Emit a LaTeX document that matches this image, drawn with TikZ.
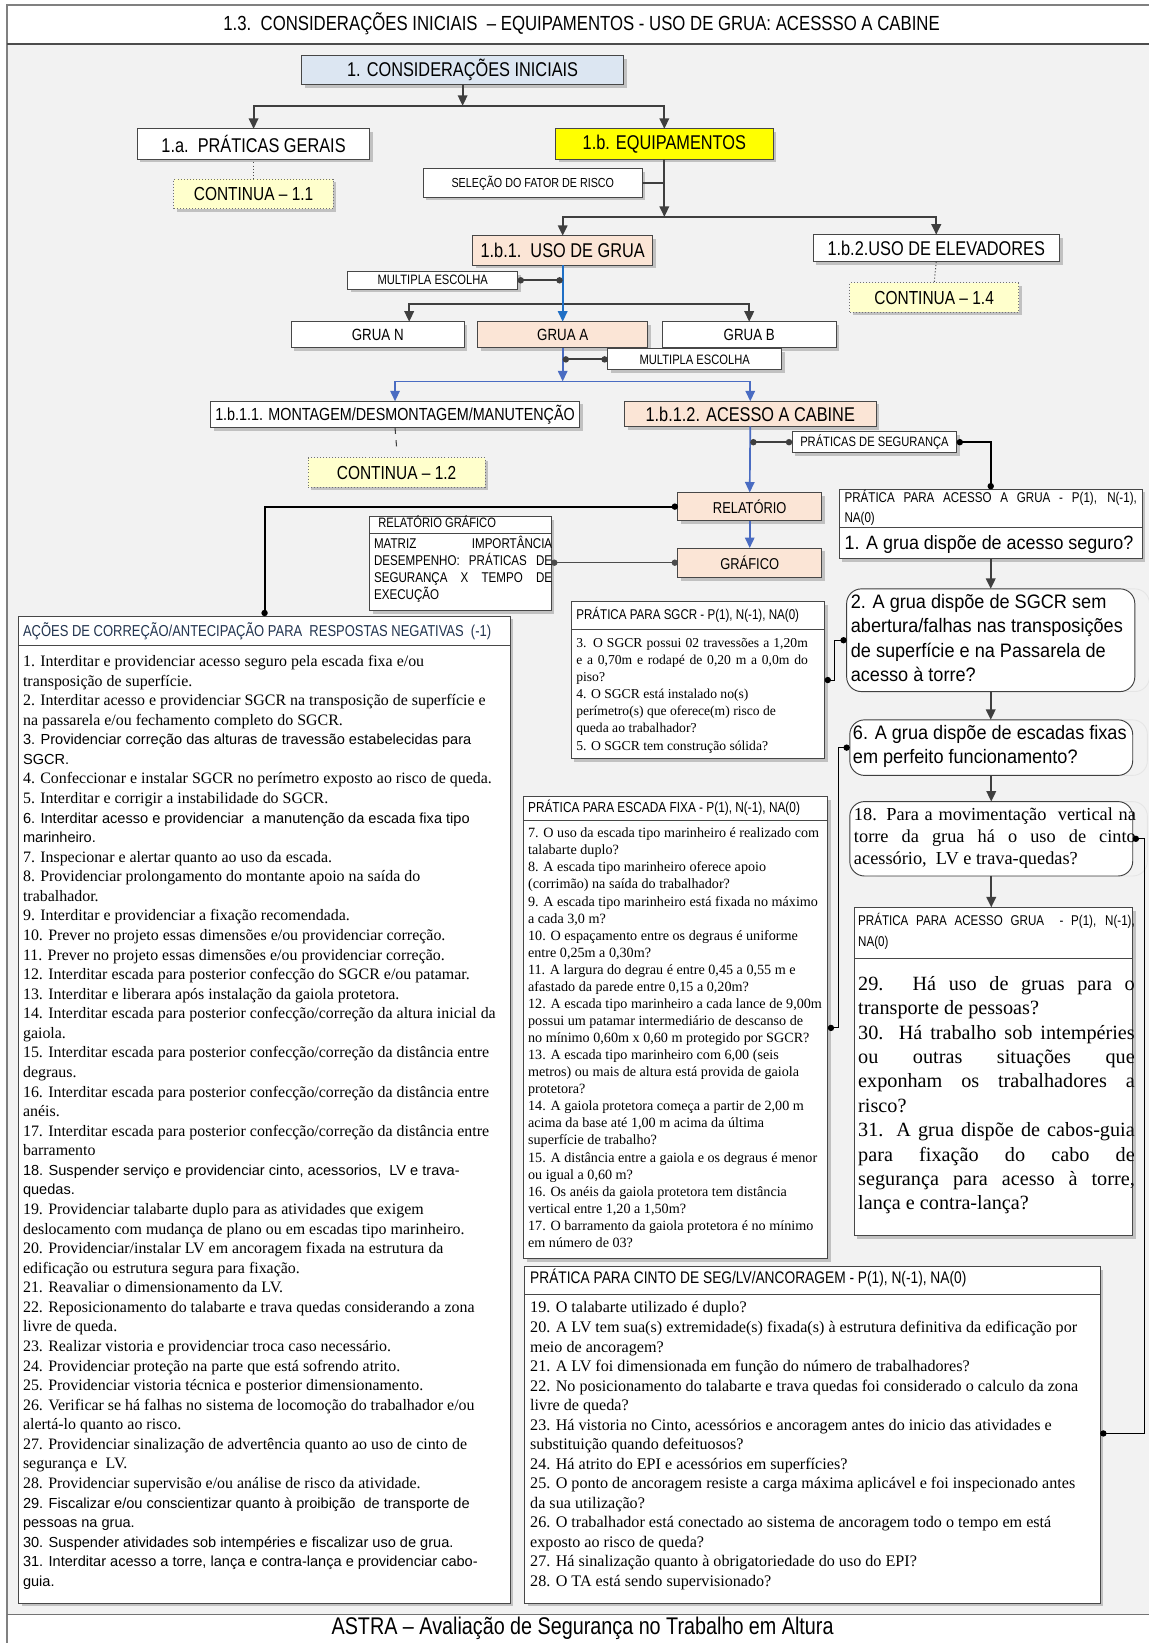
\documentclass[tikz,border=0pt]{standalone}
\usepackage{fontspec}
\setmainfont{Liberation Serif}
\newfontfamily\nsans[FakeStretch=0.82]{Liberation Sans}
\newfontfamily\qsans[FakeStretch=0.93]{Liberation Sans}
\newfontfamily\asans{Liberation Sans}
\usetikzlibrary{arrows.meta,shadows}

\definecolor{panel}{HTML}{F2F2F2}
\definecolor{peach}{HTML}{FBE5D6}
\definecolor{paleblue}{HTML}{DCE6F2}
\definecolor{paleyellow}{HTML}{FFFFCC}
\definecolor{brightyellow}{HTML}{FFFF00}
\definecolor{conn}{HTML}{3F3F3F}
\definecolor{blueA}{HTML}{1F6FC5}
\definecolor{blueB}{HTML}{4A6CC2}
\definecolor{navy}{HTML}{22344F}

\newcommand\fs[2]{\fontsize{#1}{#2}\selectfont}
\newcommand\jl[2]{\makebox[#1pt][s]{#2}}
\newcommand\sansline{\asans\fs{13.9}{18.68}}
% rectangle node spanning the corners (x1,y1) and (x2,y2)
\newcommand\spanbox[7]{\node[#6,minimum width={#4-#2},minimum height={#5-#3}] (#1) at ({(#2+#4)/2},{(#3+#5)/2}) {#7};}
% text block whose first baseline starts at (x,y)
\newcommand\textat[5]{\node[anchor=base west] (#1) at (#2,#3) {\parbox[t]{#4pt}{#5}};}

\tikzset{
  box/.style={draw=black!72,line width=0.9pt,fill=white,
    drop shadow={shadow xshift=3pt,shadow yshift=-3pt,fill=black,opacity=0.2}},
  cont/.style={box,fill=paleyellow,draw=black!55,dotted,line width=0.9pt,font=\nsans\fs{18}{20}},
  lab/.style={font=\nsans\fs{19}{22}},
  tag/.style={font=\nsans\fs{13}{15}},
  qbox/.style={draw=black!75,line width=0.9pt,fill=white,rounded corners=14pt},
  ghost/.style={draw=black!10,line width=0.8pt,rounded corners=14pt},
  arr/.style={draw=conn,line width=2pt,-{Triangle[length=10pt,width=9pt]}},
  bar/.style={draw=conn,line width=2pt},
  arrb/.style={draw=blueB,line width=1.6pt,-{Triangle[length=10pt,width=9pt]}},
  knob/.style={draw=conn,line width=2pt,{Circle[length=6pt]}-{Circle[length=6pt]}},
  blk/.style={draw=black,line width=1.8pt,{Circle[length=6pt]}-{Circle[length=6pt]}},
  thinlink/.style={draw=black,line width=1pt,{Circle[length=6pt]}-{Circle[length=6pt]}},
}

\begin{document}
\begin{tikzpicture}[x=1pt,y=-1pt,every node/.style={inner sep=0pt,outer sep=0pt}]
\useasboundingbox (0,0) rectangle (1096,1568);
% page frame, title band and grey panel
\fill[white] (0,0) rectangle (1096,1568);
\fill[panel] (7,42) rectangle (1110,1541);
\draw[black!50,line width=1.6pt] (7,1570) -- (7,5) -- (1110,5);
\draw[black!70,line width=1.2pt] (7,42) -- (1110,42);
\draw[black!55,line width=1.2pt] (7,1541) -- (1110,1541);
\node[font=\nsans\fs{19.5}{22}] (title) at (555,23) {1.3.\ \ CONSIDERAÇÕES INICIAIS\ \ – EQUIPAMENTOS - USO DE GRUA: ACESSSO A CABINE};
\node[font=\nsans\fs{23}{26}] (footer) at (556,1554) {ASTRA – Avaliação de Segurança no Trabalho em Altura};

% ---------- upper tree ----------
\spanbox{n1}{288}{53}{595}{81}{box,fill=paleblue,lab}{1. CONSIDERAÇÕES INICIAIS}
\spanbox{n1a}{131}{123}{353}{152}{box,lab}{1.a.\ \ PRÁTICAS GERAIS}
\spanbox{n1b}{530}{123}{738}{152}{box,fill=brightyellow,lab}{1.b. EQUIPAMENTOS}
\spanbox{c11}{166}{171}{318}{199}{cont}{CONTINUA – 1.1}
\spanbox{sel}{404}{161}{613}{188}{box,font=\nsans\fs{12.5}{14}}{SELEÇÃO DO FATOR DE RISCO}
\spanbox{n1b1}{451}{225}{623}{253}{box,fill=peach,lab}{1.b.1.\ \ USO DE GRUA}
\spanbox{n1b2}{776}{224}{1011}{250}{box,lab}{1.b.2.USO DE ELEVADORES}
\spanbox{c14}{811}{270}{972}{298}{cont}{CONTINUA – 1.4}
\spanbox{me1}{332}{259}{494}{276}{box,tag}{MULTIPLA ESCOLHA}
\spanbox{gN}{278}{307}{443}{332}{box,font=\nsans\fs{15.5}{17}}{GRUA N}
\spanbox{gA}{456}{307}{618}{332}{box,fill=peach,font=\nsans\fs{15.5}{17}}{GRUA A}
\spanbox{gB}{632}{307}{798}{332}{box,font=\nsans\fs{15.5}{17}}{GRUA B}
\spanbox{me2}{580}{333}{746}{353}{box,tag}{MULTIPLA ESCOLHA}
\spanbox{n111}{201}{383}{553}{408}{box,font=\nsans\fs{16.7}{18}}{1.b.1.1. MONTAGEM/DESMONTAGEM/MANUTENÇÃO}
\spanbox{n112}{596}{383}{836}{407}{box,fill=peach,lab}{1.b.1.2. ACESSO A CABINE}
\spanbox{c12}{294}{437}{463}{465}{cont}{CONTINUA – 1.2}
\spanbox{ps}{756}{412}{913}{432}{box,tag}{PRÁTICAS DE SEGURANÇA}
\spanbox{rel}{647}{470}{784}{497}{box,fill=peach,font=\nsans\fs{15}{17}}{RELATÓRIO}
\spanbox{graf}{647}{523}{784}{551}{box,fill=peach,font=\nsans\fs{15}{17}}{GRÁFICO}

% ---------- report box ----------
\spanbox{rgT}{353}{493}{526}{509}{box}{}
\spanbox{rgB}{353}{509}{526}{583}{box}{}
\textat{rgTt}{361}{503.5}{200}{\nsans\fs{13}{15}RELATÓRIO GRÁFICO}
\textat{rgBt}{357}{523.5}{200}{\nsans\fs{13.5}{16.3}\jl{170}{MATRIZ IMPORTÂNCIA}\\
\jl{170}{DESEMPENHO: PRÁTICAS DE}\\
\jl{170}{SEGURANÇA X TEMPO DE}\\
EXECUÇÃO}

% ---------- corrective actions ----------
\spanbox{acT}{18}{588}{487}{616}{box}{}
\spanbox{acB}{18}{616}{487}{1530}{box}{}
\textat{acTt}{22}{607}{600}{\leavevmode\nsans\fs{15.1}{17}\textcolor{navy}{AÇÕES DE CORREÇÃO/ANTECIPAÇÃO PARA\ \ RESPOSTAS NEGATIVAS\ \ (-1)}}
\textat{acBt}{22}{636}{700}{\fs{15.2}{18.68}%
1. Interditar e providenciar acesso seguro pela escada fixa e/ou\\
transposição de superfície.\\
2. Interditar acesso e providenciar SGCR na transposição de superfície e\\
na passarela e/ou fechamento completo do SGCR.\\
{\sansline 3. Providenciar\ correção das alturas de travessão estabelecidas para}\\
{\sansline SGCR.}\\
4. Confeccionar e instalar SGCR no perímetro exposto ao risco de queda.\\
5. Interditar e corrigir a instabilidade do SGCR.\\
{\sansline 6. Interditar acesso e providenciar\ \ a manutenção da escada fixa tipo}\\
{\sansline marinheiro.}\\
7. Inspecionar e alertar quanto ao uso da escada.\\
8. Providenciar prolongamento do montante apoio na saída do\\
trabalhador.\\
9. Interditar e providenciar a fixação recomendada.\\
10. Prever no projeto essas dimensões e/ou providenciar correção.\\
11. Prever no projeto essas dimensões e/ou providenciar correção.\\
12. Interditar escada para posterior confecção do SGCR e/ou patamar.\\
13. Interditar e liberara após instalação da gaiola protetora.\\
14. Interditar escada para posterior confecção/correção da altura inicial da\\
gaiola.\\
15. Interditar escada para posterior confecção/correção da distância entre\\
degraus.\\
16. Interditar escada para posterior confecção/correção da distância entre\\
anéis.\\
17. Interditar escada para posterior confecção/correção da distância entre\\
barramento\\
{\sansline 18. Suspender serviço e providenciar cinto, acessorios,\ \ LV e trava-}\\
{\sansline quedas.}\\
19. Providenciar talabarte duplo para as atividades que exigem\\
deslocamento com mudança de plano ou em escadas tipo marinheiro.\\
20. Providenciar/instalar LV em ancoragem fixada na estrutura da\\
edificação ou estrutura segura para fixação.\\
21. Reavaliar o dimensionamento da LV.\\
22. Reposicionamento do talabarte e trava quedas considerando a zona\\
livre de queda.\\
23. Realizar vistoria e providenciar troca caso necessário.\\
24. Providenciar proteção na parte que está sofrendo atrito.\\
25. Providenciar vistoria técnica e posterior dimensionamento.\\
26. Verificar se há falhas no sistema de locomoção do trabalhador e/ou\\
alertá-lo quanto ao risco.\\
27. Providenciar sinalização de advertência quanto ao uso de cinto de\\
segurança e\ \ LV.\\
28. Providenciar supervisão e/ou análise de risco da atividade.\\
{\sansline 29. Fiscalizar e/ou conscientizar quanto à proibição\ \ de transporte de}\\
{\sansline pessoas na grua.}\\
{\sansline 30. Suspender atividades sob intempéries e fiscalizar uso de grua.}\\
{\sansline 31. Interditar acesso a torre, lança e contra-lança e providenciar cabo-}\\
{\sansline guia.}}

% ---------- SGCR practice ----------
\spanbox{sgT}{545}{574}{787}{601}{box}{}
\spanbox{sgB}{545}{601}{787}{724}{box}{}
\textat{sgTt}{550}{591.5}{300}{\nsans\fs{13.5}{15}PRÁTICA\ PARA SGCR - P(1), N(-1), NA(0)}
\textat{sgBt}{550}{617.5}{400}{\fs{13}{16.4}\jl{221}{3. O SGCR possui 02 travessões\ a 1,20m}\\
\jl{221}{e a 0,70m e rodapé de 0,20 m a 0,0m do}\\
piso?\\
4. O SGCR está instalado\ no(s)\\
perímetro(s)\ que oferece(m)\ risco de\\
queda ao trabalhador?\\
5. O SGCR tem construção\ sólida?}

% ---------- fixed ladder practice ----------
\spanbox{esT}{500}{760}{790}{783}{box}{}
\spanbox{esB}{500}{783}{790}{1201}{box}{}
\textat{esTt}{504}{775}{400}{\nsans\fs{13.8}{15}PRÁTICA PARA ESCADA FIXA - P(1), N(-1), NA(0)}
\textat{esBt}{504}{799.5}{500}{\fs{13.5}{16.29}%
7. O uso da escada tipo marinheiro\ é realizado\ com\\
talabarte\ duplo?\\
8. A escada tipo marinheiro\ oferece\ apoio\\
(corrimão)\ na saída do trabalhador?\\
9. A escada tipo marinheiro\ está fixada no máximo\\
a cada 3,0 m?\\
10. O espaçamento entre os degraus é uniforme\\
entre 0,25m\ a 0,30m?\\
11. A largura do degrau é entre 0,45 a 0,55 m e\\
afastado\ da parede\ entre 0,15 a 0,20m?\\
12. A escada tipo marinheiro\ a cada lance de 9,00m\\
possui\ um patamar\ intermediário de descanso\ de\\
no mínimo\ 0,60m x 0,60 m protegido\ por\ SGCR?\\
13. A escada tipo marinheiro\ com\ 6,00 (seis\\
metros)\ ou mais de altura está provida\ de gaiola\\
protetora?\\
14. A gaiola protetora\ começa\ a partir\ de 2,00 m\\
acima da base até 1,00 m acima da última\\
superfície\ de trabalho?\\
15. A distância\ entre a gaiola e os degraus\ é menor\\
ou igual a 0,60 m?\\
16. Os anéis da gaiola protetora\ tem distância\\
vertical\ entre\ 1,20 a 1,50m?\\
17. O barramento\ da gaiola protetora\ é no mínimo\\
em\ número\ de 03?}

% ---------- harness practice ----------
\spanbox{ciT}{501}{1209}{1050}{1235}{box}{}
\spanbox{ciB}{501}{1235}{1050}{1530}{box}{}
\textat{ciTt}{506}{1224.5}{600}{\nsans\fs{16}{18}PRÁTICA PARA CINTO DE SEG/LV/ANCORAGEM - P(1), N(-1), NA(0)}
\textat{ciBt}{506}{1253}{700}{\fs{15.4}{18.64}%
19. O talabarte utilizado é duplo?\\
20. A LV tem sua(s) extremidade(s) fixada(s) à estrutura definitiva da edificação por\\
meio de ancoragem?\\
21. A LV foi dimensionada em função do número de trabalhadores?\\
22. No posicionamento do talabarte e trava quedas foi considerado o calculo da zona\\
livre de queda?\\
23. Há vistoria no Cinto, acessórios e ancoragem antes do inicio das atividades e\\
substituição quando defeituosos?\\
24. Há atrito do EPI e acessórios em superfícies?\\
25. O ponto de ancoragem resiste a carga máxima aplicável e foi inspecionado antes\\
da sua utilização?\\
26. O trabalhador está conectado ao sistema de ancoragem todo o tempo em está\\
exposto ao risco de queda?\\
27. Há sinalização quanto à obrigatoriedade do uso do EPI?\\
28. O TA está sendo supervisionado?}

% ---------- question column ----------
\spanbox{pagT}{801}{467}{1090}{503}{box}{}
\spanbox{pagB}{801}{503}{1090}{533}{box}{}
\textat{pagTt}{806}{479.5}{320}{\nsans\fs{13.5}{19}\jl{279}{PRÁTICA PARA ACESSO A GRUA - P(1), N(-1),}\\NA(0)}
\textat{pagBt}{806}{524}{320}{\qsans\fs{18.4}{22}1. A grua dispõe\ de acesso seguro?}

\draw[ghost] (822,562) rectangle (1097,660);
\draw[ghost] (825,687) rectangle (1095,740);
\draw[ghost] (825,765) rectangle (1095,836);
\spanbox{q2}{808}{562}{1083}{660}{qbox}{}
\spanbox{q6}{811}{687}{1081}{740}{qbox}{}
\spanbox{q18}{811}{765}{1081}{836}{qbox}{}
\textat{q2t}{812}{580.5}{320}{\qsans\fs{18.6}{23.3}2. A grua dispõe de SGCR sem\\
abertura/falhas nas transposições\\
de superfície e na Passarela de\\
acesso à torre?}
\textat{q6t}{814}{705.5}{320}{\qsans\fs{18.6}{23.3}6. A grua dispõe\ de escadas fixas\\
em perfeito funcionamento?}
\textat{q18t}{815}{783}{320}{\fs{17.5}{21}\jl{269}{18. Para a movimentação\ \ vertical na}\\
\jl{269}{torre da grua há o uso de cinto}\\
acessório,\ \ LV e trava-quedas?}

\spanbox{pgT}{815}{866}{1081}{915}{box}{}
\spanbox{pgB}{815}{915}{1081}{1179}{box}{}
\textat{pgTt}{819}{883.5}{320}{\nsans\fs{13.5}{20}\jl{264}{PRÁTICA PARA ACESSO GRUA\ \ - P(1), N(-1),}\\NA(0)}
\textat{pgBt}{819}{945}{320}{\fs{19.3}{23.3}\jl{264}{29. Há uso de gruas para o}\\
transporte de pessoas?\\
\jl{264}{30. Há trabalho sob intempéries}\\
\jl{264}{ou outras situações que}\\
\jl{264}{exponham os trabalhadores a}\\
risco?\\
\jl{264}{31. A grua dispõe de cabos-guia}\\
\jl{264}{para fixação do cabo de}\\
\jl{264}{segurança para acesso à torre,}\\
lança e contra-lança?}

% ---------- connectors ----------
\coordinate (lv1) at (0,101);
\coordinate (lv2) at (0,207);
\coordinate (lv3) at (0,290);
\coordinate (lv4) at (0,364);

\draw[arr] (n1.south) -- (n1.south |- lv1);
\draw[arr] (n1.south |- lv1) -| (n1a.north);
\draw[arr] (n1.south |- lv1) -| (n1b.north);
\draw[dotted,line width=1pt,black!70] (n1a.south) -- (c11.north);

\draw[bar] (sel.east) -- (sel.east -| n1b.south);
\draw[arr] (n1b.south) -- (n1b.south |- lv2);
\draw[arr] (n1b.south |- lv2) -| (n1b1.north);
\draw[arr] (n1b.south |- lv2) -| (n1b2.north);
\draw[dotted,line width=1pt,black!70] (n1b2.south) -- (c14.north);

\draw[arr] (gA.north |- lv3) -| ([xshift=30pt]gN.north);
\draw[arr] (gA.north |- lv3) -| (gB.north);
\draw[arrb,draw=blueA] (n1b1.south) -- (gA.north);
\draw[knob] (me1.east) -- (me1.east -| n1b1.south);

\draw[arrb] (gA.south) -- (gA.south |- lv4);
\draw[arrb] (gA.south |- lv4) -| (n111.north);
\draw[arrb] (gA.south |- lv4) -| (n112.north);
\draw[knob] (gA.south |- me2.west) -- (me2.west);
\draw[conn,line width=1pt,dash pattern=on 6pt off 6pt] (n111.south) -- ([yshift=10pt]c12.north);

\draw[arrb] (n112.south) -- (rel.north);
\draw[knob] (n112.south |- ps.west) -- (ps.west);
\draw[blk] (ps.east) -| (pagT.north);
\draw[blk] (rel.west) -| (acT.north);
\draw[arrb] (rel.south) -- (graf.north);
\draw[knob,draw=black!70,line width=1.5pt] (graf.west) -- (graf.west -| rgB.east);

\draw[arr] (pagB.south) -- (pagB.south |- q2.north);
\draw[arr] (q2.south) -- (q2.south |- q6.north);
\draw[arr] (q6.south) -- (q6.south |- q18.north);
\draw[arr] (q18.south) -- (q18.south |- pgT.north);

\draw[thinlink] ([yshift=13.5pt]sgB.east) -- ++(9,0) |- (q2.west);
\draw[thinlink] ([yshift=11pt]esB.east) -- ++(10,0) |- (q6.west);
\draw[thinlink] (q18.east) -- ++(11,0) |- ([yshift=14.5pt]ciB.east);
\end{tikzpicture}
\end{document}
